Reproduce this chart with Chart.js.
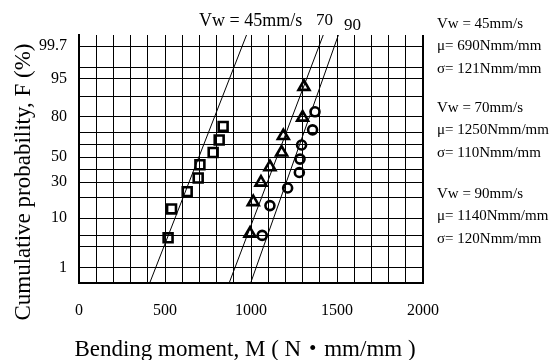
<!DOCTYPE html>
<html>
<head>
<meta charset="utf-8">
<script src="https://cdn.jsdelivr.net/npm/chart.js@4.4.0/dist/chart.umd.min.js"></script>
<style>
html, body { margin: 0; padding: 0; background: #fff; }
</style>
</head>
<body>
<canvas id="myChart" width="551" height="360"></canvas>
<script>
// measured points, bending moment M and cumulative probability F (%)
const squareM = [518, 538, 629, 693, 703, 780, 815, 838];
const squareF = [4.5, 13.8, 23.4, 33, 43.6, 53.8, 64, 74];
const triangleM = [994, 1013, 1058, 1110, 1178, 1188, 1300, 1308];
const triangleF = [5.4, 17.3, 29.7, 41.7, 53.9, 67.2, 79.7, 93];
const circleM = [1065, 1110, 1213, 1281, 1285, 1294, 1358, 1372];
const circleF = [5, 15.4, 25.8, 37.3, 48.3, 60, 71.6, 82.9];

// fitted lines: M where each line leaves the bottom and top of the plot
const lineBottomM = [411, 873, 998];
const lineTopM = [974, 1420, 1508];

// probability paper
const gridF = [1, 3, 5, 10, 20, 30, 40, 50, 60, 70, 80, 90, 95, 97, 99];
const gridLabels = ['1', '', '', '10', '', '30', '', '50', '', '', '80', '', '95', '', '99.7'];
const axisMinF = 0.41;
const axisMaxF = 99.48;
const xTickLabels = ['0', '500', '1000', '1500', '2000'];

// right hand notes
const noteLines = [
    ['Vw = 45mm/s', 'μ= 690Nmm/mm', 'σ= 121Nmm/mm'],
    ['Vw = 70mm/s', 'μ= 1250Nmm/mm', 'σ= 110Nmm/mm'],
    ['Vw = 90mm/s', 'μ= 1140Nmm/mm', 'σ= 120Nmm/mm']
];

function probit(p) {
    const a = [-3.969683028665376e+01, 2.209460984245205e+02, -2.759285104469687e+02, 1.383577518672690e+02, -3.066479806614716e+01, 2.506628277459239e+00];
    const b = [-5.447609879822406e+01, 1.615858368580409e+02, -1.556989798598866e+02, 6.680131188771972e+01, -1.328068155288572e+01];
    const c = [-7.784894002430293e-03, -3.223964580411365e-01, -2.400758277161838e+00, -2.549732539343734e+00, 4.374664141464968e+00, 2.938163982698783e+00];
    const d = [7.784695709041462e-03, 3.224671290700398e-01, 2.445134137142996e+00, 3.754408661907416e+00];
    let q, r;
    if (p < 0.02425) {
        q = Math.sqrt(-2 * Math.log(p));
        return (((((c[0] * q + c[1]) * q + c[2]) * q + c[3]) * q + c[4]) * q + c[5]) / ((((d[0] * q + d[1]) * q + d[2]) * q + d[3]) * q + 1);
    }
    if (p <= 1 - 0.02425) {
        q = p - 0.5;
        r = q * q;
        return (((((a[0] * r + a[1]) * r + a[2]) * r + a[3]) * r + a[4]) * r + a[5]) * q / (((((b[0] * r + b[1]) * r + b[2]) * r + b[3]) * r + b[4]) * r + 1);
    }
    q = Math.sqrt(-2 * Math.log(1 - p));
    return -(((((c[0] * q + c[1]) * q + c[2]) * q + c[3]) * q + c[4]) * q + c[5]) / ((((d[0] * q + d[1]) * q + d[2]) * q + d[3]) * q + 1);
}

function toZ(f) {
    return probit(f / 100);
}

function pts(ms, fs) {
    return ms.map((m, i) => ({ x: m, y: toZ(fs[i]) }));
}

const yMin = toZ(axisMinF);
const yMax = toZ(axisMaxF);

const serif = '"Liberation Serif", "Times New Roman", serif';
const serifCjk = '"Liberation Serif", "Noto Sans CJK JP", serif';

const pointStyle = {
    type: 'scatter',
    showLine: false,
    borderColor: '#000',
    backgroundColor: 'rgba(0,0,0,0)',
    borderWidth: 2.6
};

let datasets = [
    Object.assign({}, pointStyle, { label: 'sq', data: pts(squareM, squareF), pointStyle: 'rect', pointRadius: 6.3 }),
    Object.assign({}, pointStyle, { label: 'tri', data: pts(triangleM, triangleF), pointStyle: 'triangle', pointRadius: 6.3 }),
    Object.assign({}, pointStyle, { label: 'ci', data: pts(circleM, circleF), pointStyle: 'circle', pointRadius: 4.5 })
];
lineBottomM.forEach((m, i) => {
    datasets.push({
        label: 'fit' + i,
        data: [{ x: m, y: yMin }, { x: lineTopM[i], y: yMax }],
        showLine: true,
        borderColor: '#000',
        borderWidth: 1,
        pointRadius: 0
    });
});

const textPlugin = {
    id: 'texts',
    afterDraw(chart) {
        const ctx = chart.ctx;
        const area = chart.chartArea;
        ctx.save();
        // right border of the frame
        ctx.strokeStyle = '#000';
        ctx.lineWidth = 2;
        ctx.beginPath();
        ctx.moveTo(area.right, area.top);
        ctx.lineTo(area.right, area.bottom + 1);
        ctx.stroke();

        ctx.fillStyle = '#000';
        ctx.textBaseline = 'alphabetic';
        ctx.textAlign = 'left';
        ctx.font = '18px ' + serif;
        ctx.fillText('Vw = 45mm/s', 199, 26);
        ctx.font = '17px ' + serif;
        ctx.fillText('70', 316, 25);
        ctx.fillText('90', 344, 30);

        ctx.font = '15px ' + serif;
        const baseY = [[28, 50, 73], [112, 134, 157], [198, 220, 243]];
        noteLines.forEach((g, gi) => {
            g.forEach((t, ti) => {
                ctx.fillText(t, 437, baseY[gi][ti]);
            });
        });

        ctx.font = '23px ' + serifCjk;
        ctx.textAlign = 'center';
        ctx.fillText('Bending moment, M ( N・mm/mm )', 245, 356);

        ctx.translate(30, 182);
        ctx.rotate(-Math.PI / 2);
        ctx.fillText('Cumulative probability, F (%)', 0, 0);
        ctx.restore();
    }
};

const config = {
    type: 'scatter',
    data: { datasets: datasets },
    options: {
        responsive: false,
        animation: false,
        events: [],
        layout: { padding: { top: 35, right: 128, left: 0, bottom: 0 } },
        plugins: { legend: { display: false }, tooltip: { enabled: false } },
        scales: {
            x: {
                type: 'linear',
                min: 0,
                max: 2000,
                afterFit: function (scale) { scale.height = 77; },
                ticks: {
                    stepSize: 100,
                    padding: 18,
                    maxRotation: 0,
                    autoSkip: false,
                    color: '#000',
                    font: { family: serif, size: 16 },
                    callback: function (v) {
                        return v % 500 === 0 ? xTickLabels[v / 500] : '';
                    }
                },
                grid: { color: '#000', lineWidth: 1, drawTicks: false },
                border: { color: '#000', width: 2 }
            },
            y: {
                type: 'linear',
                min: yMin,
                max: yMax,
                afterFit: function (scale) { scale.width = 79; },
                afterBuildTicks: function (scale) {
                    scale.ticks = gridF.map(f => ({ value: toZ(f) }));
                },
                ticks: {
                    padding: 12,
                    autoSkip: false,
                    color: '#000',
                    font: { family: serif, size: 16 },
                    callback: function (v, i) {
                        return gridLabels[i];
                    }
                },
                grid: { color: '#000', lineWidth: 1, drawTicks: false },
                border: { color: '#000', width: 2 }
            }
        }
    },
    plugins: [textPlugin]
};

const myChart = new Chart(document.getElementById('myChart'), config);
</script>
</body>
</html>
